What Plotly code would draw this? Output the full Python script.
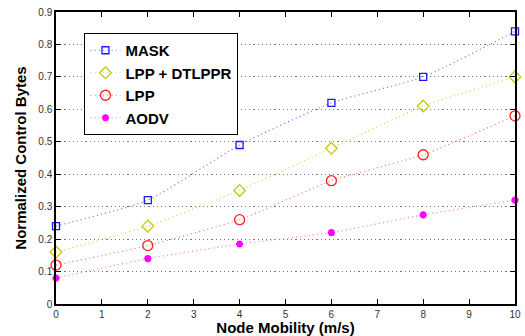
import plotly.graph_objects as go

# Node mobility (m/s)
mobility = [0, 2, 4, 6, 8, 10]

# Normalized control bytes per protocol
mask = [0.24, 0.32, 0.49, 0.62, 0.70, 0.84]
lpp_dtlppr = [0.16, 0.24, 0.35, 0.48, 0.61, 0.70]
lpp = [0.12, 0.18, 0.26, 0.38, 0.46, 0.58]
aodv = [0.08, 0.14, 0.185, 0.22, 0.275, 0.32]

x_ticks = list(range(0, 11))
y_ticks = [0, 0.1, 0.2, 0.3, 0.4, 0.5, 0.6, 0.7, 0.8, 0.9]
y_tick_text = ["0", "0.1", "0.2", "0.3", "0.4", "0.5", "0.6", "0.7", "0.8", "0.9"]

series = [
    ("MASK", mask, "#8080ff", "#1a1aff", "square-open", 7, 1.3),
    ("LPP + DTLPPR", lpp_dtlppr, "#d8d860", "#c8c800", "diamond-open", 9, 1.3),
    ("LPP", lpp, "#ff8080", "#ff2020", "circle-open", 10, 1.3),
    ("AODV", aodv, "#ff80ff", "#ff00ff", "asterisk-open", 6, 2.2),
]

fig = go.Figure()
for name, vals, lcol, mcol, sym, size, mw in series:
    fig.add_trace(go.Scatter(
        x=mobility, y=vals, name=name,
        mode="lines+markers",
        line=dict(color=lcol, width=1.2, dash="1.2px,3px", shape="spline", smoothing=0.5),
        marker=dict(symbol=sym, size=size, color=mcol, line=dict(color=mcol, width=mw)),
        cliponaxis=False,
    ))

axis_font = dict(family="Liberation Sans, Arial, sans-serif", size=10, color="#333333")
title_font = dict(family="Liberation Sans, Arial, sans-serif", size=15, color="#000000")

fig.update_layout(
    width=525, height=336,
    margin=dict(l=56, r=4, t=12, b=32),
    paper_bgcolor="white", plot_bgcolor="white",
    showlegend=True,
    legend=dict(
        x=0.062, y=0.928, xanchor="left", yanchor="top",
        bgcolor="white", bordercolor="black", borderwidth=1,
        font=dict(family="Liberation Sans, Arial, sans-serif", size=15, color="#000000", weight="bold"),
        tracegroupgap=0, itemwidth=30,
    ),
    xaxis=dict(
        range=[0, 10], tickvals=x_ticks, ticktext=[str(v) for v in x_ticks],
        ticks="inside", ticklen=5, tickcolor="#000000", mirror="ticks",
        showline=True, linecolor="#000000", linewidth=1.5,
        showgrid=False, zeroline=False, tickfont=axis_font,
        title=dict(text="<b>Node Mobility (m/s)</b>", font=title_font, standoff=2),
    ),
    yaxis=dict(
        range=[0, 0.9], tickvals=y_ticks, ticktext=y_tick_text,
        ticks="inside", ticklen=5, tickcolor="#000000", mirror="ticks",
        showline=True, linecolor="#000000", linewidth=1.5,
        showgrid=True, gridcolor="#777777", griddash="1.2px,3px", gridwidth=1.2,
        zeroline=False, tickfont=axis_font,
        title=dict(text="<b>Normalized Control Bytes</b>", font=title_font, standoff=8),
    ),
)

fig.write_html("out.html")
